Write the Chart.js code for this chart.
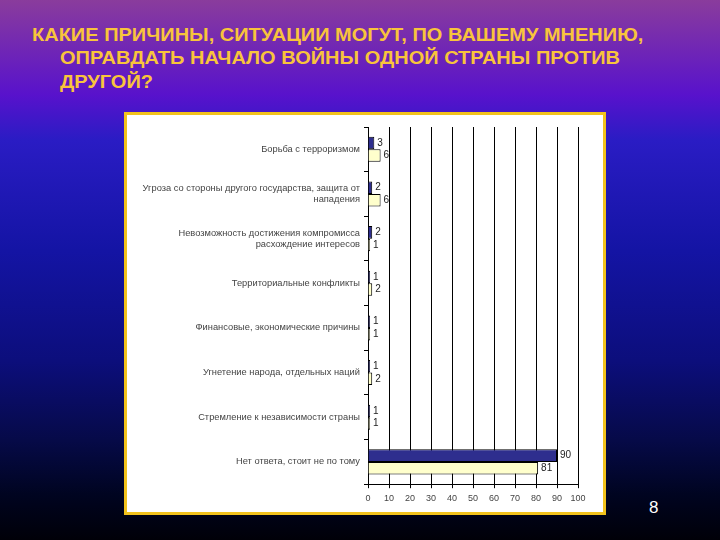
<!DOCTYPE html>
<html>
<head>
<meta charset="utf-8">
<script src="https://cdn.jsdelivr.net/npm/chart.js@4/dist/chart.umd.min.js"></script>
<style>
  html, body { margin: 0; padding: 0; }
  body {
    width: 720px; height: 540px; overflow: hidden; position: relative;
    background: linear-gradient(to bottom, #8a3c9c 0px, #5812cc 95px, #2a1cc4 140px, #1414a4 250px, #0c0e7c 360px, #060a48 440px, #000420 495px, #000008 540px);
    font-family: "Liberation Sans", Arial, sans-serif;
  }
  #title {
    position: absolute; left: 32px; top: 23px; width: 690px;
    color: #f8c43c; font-weight: bold; font-size: 20px; line-height: 26px;
    transform: scaleY(0.9); transform-origin: 0 0;
  }
  #title div.ind { padding-left: 28px; }
  #frame {
    position: absolute; left: 124px; top: 112px; width: 476px; height: 397px;
    border: 3px solid #f2c21c; background: #fff;
  }
  #chart { position: absolute; left: 0; top: 0; }
  #page {
    position: absolute; left: 649px; top: 498px; color: #fff; font-size: 17px;
  }
</style>
</head>
<body>
<div id="title">
  <div>КАКИЕ ПРИЧИНЫ, СИТУАЦИИ МОГУТ, ПО ВАШЕМУ МНЕНИЮ,</div>
  <div class="ind">ОПРАВДАТЬ НАЧАЛО ВОЙНЫ ОДНОЙ СТРАНЫ ПРОТИВ</div>
  <div class="ind">ДРУГОЙ?</div>
</div>
<div id="frame"><canvas id="chart" width="476" height="397"></canvas></div>
<div id="page">8</div>
<script>
// categories and values
const categories = [
  "Борьба с терроризмом",
  ["Угроза со стороны другого государства, защита от", "нападения"],
  ["Невозможность достижения компромисса", "расхождение интересов"],
  "Территориальные конфликты",
  "Финансовые, экономические причины",
  "Угнетение народа, отдельных наций",
  "Стремление к независимости страны",
  "Нет ответа, стоит не по тому"
]
const seriesBlue = [3, 2, 2, 1, 1, 1, 1, 90]
const seriesYellow = [6, 6, 1, 2, 1, 2, 1, 81]
const xTicks = [0, 10, 20, 30, 40, 50, 60, 70, 80, 90, 100]

// numbers at the end of each bar
const barLabels = {
  id: "barLabels",
  afterDatasetsDraw(chart) {
    const ctx = chart.ctx
    ctx.save()
    ctx.font = "10px 'Liberation Sans', Arial, sans-serif"
    ctx.fillStyle = "#222"
    ctx.textBaseline = "middle"
    chart.data.datasets.forEach((ds, i) => {
      chart.getDatasetMeta(i).data.forEach((bar, j) => {
        ctx.fillText(String(ds.data[j]), bar.x + 3, bar.y)
      })
    })
    ctx.restore()
  }
}

let chart = new Chart(document.getElementById("chart"), {
  type: "bar",
  data: {
    labels: categories,
    datasets: [
      { label: "blue", data: seriesBlue, backgroundColor: "#2e2e8e", borderColor: "#000", borderWidth: 1 },
      { label: "yellow", data: seriesYellow, backgroundColor: "#ffffcc", borderColor: "#000", borderWidth: 1 }
    ]
  },
  options: {
    indexAxis: "y",
    responsive: false,
    animation: false,
    categoryPercentage: 0.56,
    barPercentage: 1,
    layout: { padding: { top: 12, right: 25, left: 0, bottom: 3 } },
    plugins: { legend: { display: false }, tooltip: { enabled: false } },
    scales: {
      x: {
        min: 0, max: 100,
        afterBuildTicks: (scale) => { scale.ticks = xTicks.map(v => ({ value: v })) },
        grid: { color: "#000", lineWidth: 1, tickLength: 4 },
        border: { color: "#000" },
        ticks: { color: "#444", font: { size: 9, family: "'Liberation Sans', Arial" }, padding: 5,
                 maxRotation: 0, minRotation: 0, autoSkip: false }
      },
      y: {
        afterFit: (scale) => { scale.width = 241 },
        grid: { drawOnChartArea: false, color: "#000", tickLength: 4, offset: true },
        border: { color: "#000" },
        ticks: { color: "#444", font: { size: 9.3, family: "'Liberation Sans', Arial" }, padding: 4 }
      }
    }
  },
  plugins: [barLabels]
})
</script>
</body>
</html>
